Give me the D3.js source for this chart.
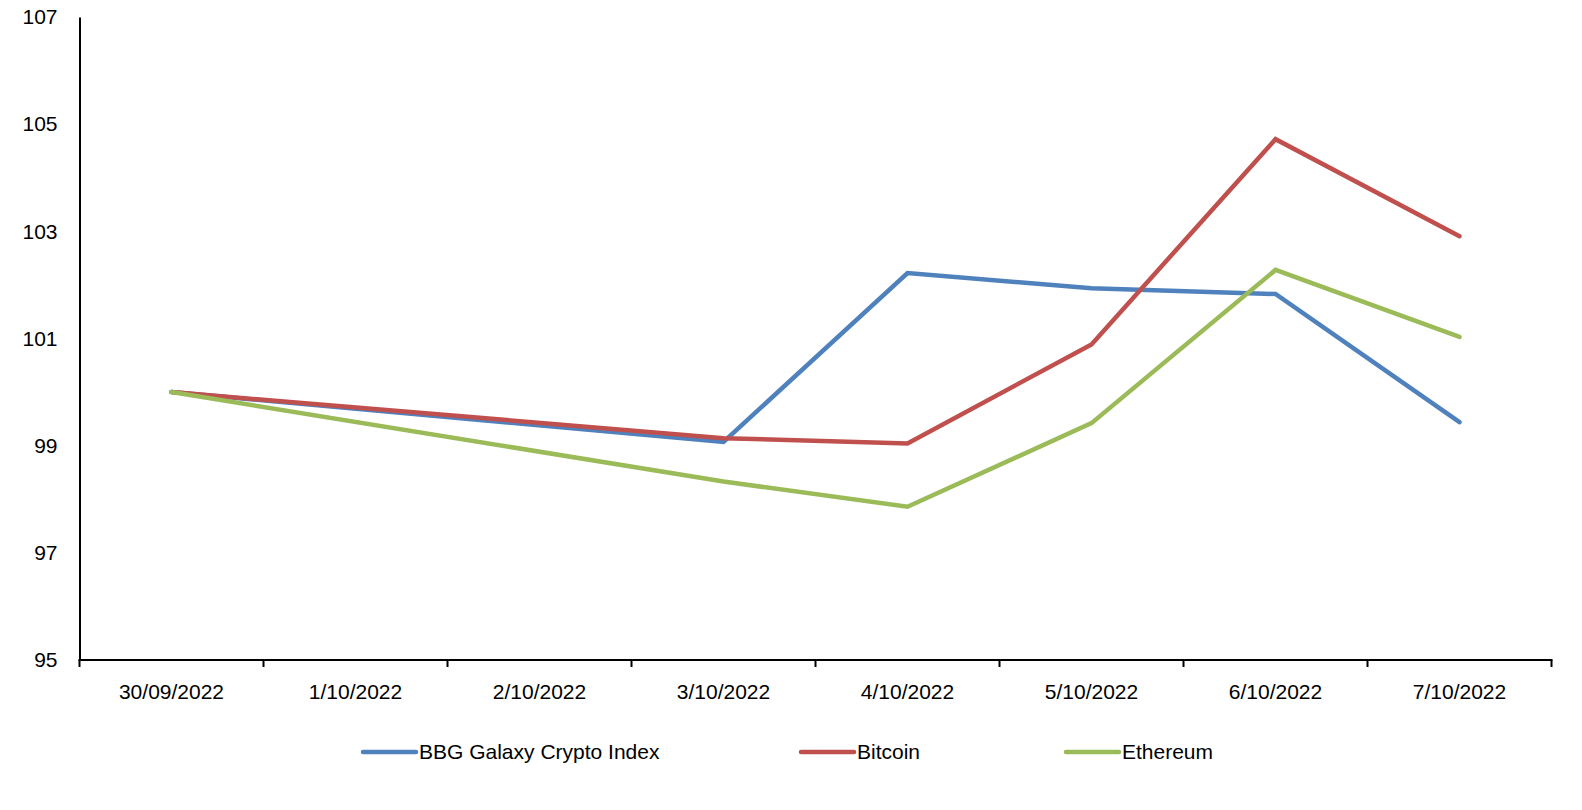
<!DOCTYPE html>
<html>
<head>
<meta charset="utf-8">
<script src="https://cdn.jsdelivr.net/npm/d3@7"></script>
<style>
  html, body { margin: 0; padding: 0; background: #fff; }
  svg { display: block; font-family: "Liberation Sans", Arial, sans-serif; }
</style>
</head>
<body>
<svg id="chart" width="1582" height="810"></svg>
<script>
const categories = ["30/09/2022", "1/10/2022", "2/10/2022", "3/10/2022", "4/10/2022", "5/10/2022", "6/10/2022", "7/10/2022"];
const bbgGalaxy = [100, null, null, 99.07, 102.22, 101.94, 101.83, 99.44];
const bitcoin   = [100, null, null, 99.14, 99.04, 100.89, 104.72, 102.91];
const ethereum  = [100, null, null, 98.33, 97.86, 99.42, 102.28, 101.03];
const yTicks = [95, 97, 99, 101, 103, 105, 107];
const seriesNames = ["BBG Galaxy Crypto Index", "Bitcoin", "Ethereum"];
const seriesColors = ["#4F81BD", "#C0504D", "#9BBB59"];
const seriesValues = [bbgGalaxy, bitcoin, ethereum];

const svg = d3.select("#chart");
const mLeft = 79.5, mRight = 1551.5, mTop = 17, mBottom = 660;

const x = d3.scaleBand().domain(categories).range([mLeft, mRight]).padding(0);
const y = d3.scaleLinear().domain([95, 107]).range([mBottom, mTop]);

// Y axis
const yAxis = d3.axisLeft(y).tickValues(yTicks).tickSize(0).tickPadding(22).tickFormat(d3.format("d"));
const yg = svg.append("g").attr("transform", `translate(${mLeft},0)`).call(yAxis);
yg.select(".domain").attr("stroke", "#000").attr("stroke-width", 2);
yg.selectAll("text").attr("font-size", 21).attr("fill", "#000").attr("font-family", "Liberation Sans, Arial, sans-serif");

// X axis
const tickPositions = categories.map(c => x(c)).concat([mRight]);
const xg = svg.append("g").attr("transform", `translate(0,${mBottom})`);
xg.append("line").attr("x1", mLeft - 1).attr("x2", mRight + 1).attr("y1", 0).attr("y2", 0)
  .attr("stroke", "#000").attr("stroke-width", 2);
xg.selectAll("line.tick").data(tickPositions).enter().append("line")
  .attr("class", "tick").attr("x1", d => d).attr("x2", d => d).attr("y1", 0).attr("y2", 7)
  .attr("stroke", "#000").attr("stroke-width", 2);
xg.selectAll("text").data(categories).enter().append("text")
  .attr("x", d => x(d) + x.bandwidth() / 2).attr("y", 39)
  .attr("text-anchor", "middle").attr("font-size", 21).attr("fill", "#000")
  .text(d => d);

// Lines
const line = d3.line()
  .x(d => x(d.cat) + x.bandwidth() / 2)
  .y(d => y(d.v));

seriesValues.forEach((vals, i) => {
  const pts = categories.map((c, j) => ({ cat: c, v: vals[j] })).filter(d => d.v !== null);
  svg.append("path").datum(pts)
    .attr("d", line)
    .attr("fill", "none")
    .attr("stroke", seriesColors[i])
    .attr("stroke-width", 4.5)
    .attr("stroke-linecap", "round")
    .attr("stroke-linejoin", "miter");
});

// Legend
const legendX = [363, 801, 1066];
const legendY = 759;
const lg = svg.append("g");
seriesNames.forEach((name, i) => {
  lg.append("line").attr("x1", legendX[i]).attr("x2", legendX[i] + 53)
    .attr("y1", legendY - 7).attr("y2", legendY - 7)
    .attr("stroke", seriesColors[i]).attr("stroke-width", 4.5).attr("stroke-linecap", "round");
  lg.append("text").attr("x", legendX[i] + 56).attr("y", legendY)
    .attr("font-size", 21).attr("fill", "#000").text(name);
});
</script>
</body>
</html>
